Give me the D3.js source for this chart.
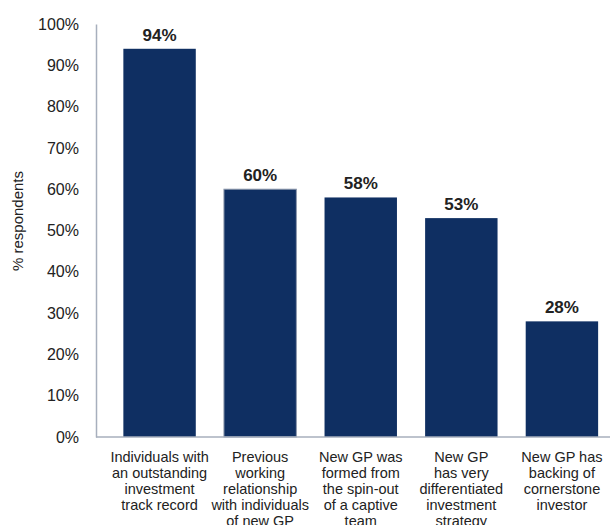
<!DOCTYPE html>
<html>
<head>
<meta charset="utf-8">
<script src="https://cdn.jsdelivr.net/npm/d3@7"></script>
<style>
  body { margin: 0; background: #fff; }
  text { font-family: "Liberation Sans", sans-serif; fill: #222; }
</style>
</head>
<body>
<div id="chart"></div>
<script>
/* -----------------------
data
------------------------- */
var categories = [
  ["Individuals with", "an outstanding", "investment", "track record"],
  ["Previous", "working", "relationship", "with individuals", "of new GP"],
  ["New GP was", "formed from", "the spin-out", "of a captive", "team"],
  ["New GP", "has very", "differentiated", "investment", "strategy"],
  ["New GP has", "backing of", "cornerstone", "investor"]
];
var values = [94, 60, 58, 53, 28];
var yTicks = [0, 10, 20, 30, 40, 50, 60, 70, 80, 90, 100];

/* -----------------------
main variables
------------------------- */
var width = 611, height = 525;
var x0 = 96, x1 = 611, yTop = 24, yBottom = 437;
var c_bar = '#0f2f62', c_axis = '#a7afbd';

var svg = d3.select('#chart').append('svg')
  .attr('width', width)
  .attr('height', height);

var x = d3.scaleBand()
  .domain(d3.range(values.length))
  .range([x0, x1])
  .paddingInner(0.28)
  .paddingOuter(0.2)
  .align(0.68);

var y = d3.scaleLinear()
  .domain([0, 100])
  .range([yBottom, yTop]);

/* -----------------------
axes
------------------------- */
var yAxis = svg.append('g')
  .attr('transform', 'translate(' + x0 + ',0)')
  .call(d3.axisLeft(y).tickValues(yTicks).tickSize(0).tickPadding(17)
    .tickFormat(function (d) { return d + '%'; }));
yAxis.select('.domain').attr('stroke', c_axis).attr('stroke-width', 1.5);
yAxis.selectAll('text')
  .attr('font-size', '16px')
  .attr('font-family', '"Liberation Sans", sans-serif')
  .attr('fill', '#222');

svg.append('text')
  .attr('transform', 'translate(23,' + 221 + ') rotate(-90)')
  .attr('text-anchor', 'middle')
  .attr('font-size', '15px')
  .text('% respondents');

/* -----------------------
bars
------------------------- */
svg.selectAll('.bar')
  .data(values)
  .enter()
  .append('rect')
  .attr('class', 'bar')
  .attr('x', function (d, i) { return x(i); })
  .attr('y', function (d) { return y(d); })
  .attr('width', x.bandwidth())
  .attr('height', function (d) { return yBottom - y(d); })
  .attr('fill', c_bar)
  .attr('stroke', function (d, i) { return i == 1 ? '#8e99ad' : 'none'; })
  .attr('stroke-width', 1);

// x axis line
svg.append('line')
  .attr('x1', x0).attr('x2', x1 - 1)
  .attr('y1', yBottom).attr('y2', yBottom)
  .attr('stroke', c_axis)
  .attr('stroke-width', 1.5);

// value labels
svg.selectAll('.val')
  .data(values)
  .enter()
  .append('text')
  .attr('class', 'val')
  .attr('x', function (d, i) { return x(i) + x.bandwidth() / 2; })
  .attr('y', function (d) { return y(d) - 8; })
  .attr('text-anchor', 'middle')
  .attr('font-size', '17px')
  .attr('font-weight', 'bold')
  .text(function (d) { return d + '%'; });

// category labels
var cat = svg.selectAll('.cat')
  .data(categories)
  .enter()
  .append('text')
  .attr('class', 'cat')
  .attr('text-anchor', 'middle')
  .attr('font-size', '14.5px');

cat.selectAll('tspan')
  .data(function (d, i) { return d.map(function (s) { return { s: s, i: i }; }); })
  .enter()
  .append('tspan')
  .attr('x', function (d) { return x(d.i) + x.bandwidth() / 2; })
  .attr('y', function (d, j) { return 462 + j * 16; })
  .text(function (d) { return d.s; });
</script>
</body>
</html>
